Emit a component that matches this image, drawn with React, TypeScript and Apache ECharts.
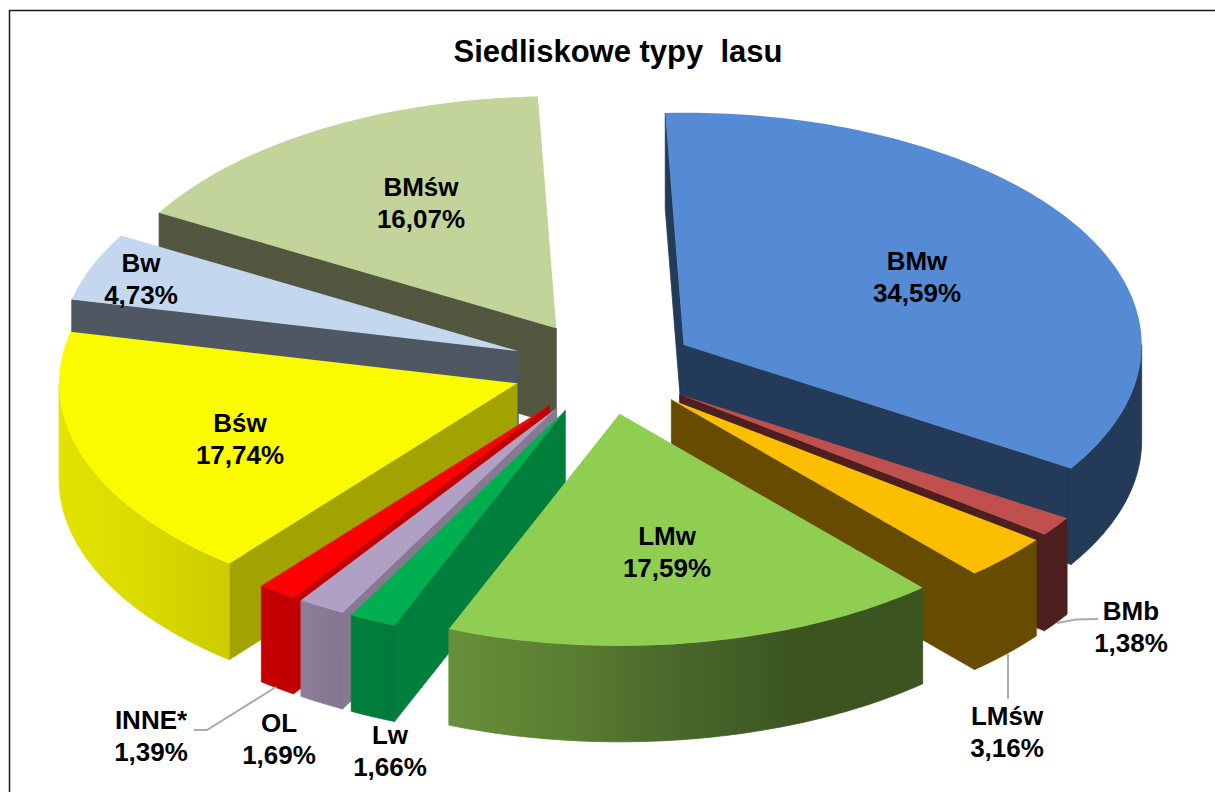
import React, { useEffect, useRef } from "react";
import * as echarts from "echarts";

const titleText = "Siedliskowe typy  lasu";
// clockwise from the top of the pie
const categories = ["BMw", "BMb", "LMśw", "LMw", "Lw", "OL", "INNE*", "Bśw", "Bw", "BMśw"];
const shares = [34.59, 1.38, 3.16, 17.59, 1.66, 1.69, 1.39, 17.74, 4.73, 16.07];
// back-to-front paint order (indices into categories)
const paintOrder = [9, 8, 0, 7, 1, 2, 6, 5, 4, 3];

const topColors = ["#558BD4", "#C0504D", "#FCBE00", "#8FCE50", "#00B050", "#B0A0C4", "#FF0000", "#FBFB00", "#C3D7EE", "#C2D499"];
const cutColors = ["#243A59", "#4D1F1F", "#674C00", "#3B5320", "#007F3C", "#857A92", "#C00000", "#A3A300", "#4F5763", "#53573F"];
const rimStops: string[][] = [
  ["#243A59", "#243A59"],
  ["#4D1F1F", "#4D1F1F"],
  ["#674C00", "#674C00"],
  ["#688F3A", "#5A7E31", "#48662A", "#3C5420", "#3C5420"],
  ["#007F3C", "#007A3A"],
  ["#8C7E9A", "#847690"],
  ["#C80000", "#BE0000"],
  ["#E3E300", "#DADA00", "#CCCC00"],
  ["#4F5763", "#4F5763"],
  ["#53573F", "#53573F"],
];
const labelCentres = [
  [917, 277], [1131, 627], [1007, 732], [667, 552], [390, 751],
  [279, 739], [151, 736], [240, 439], [141, 279], [421, 203],
];
const leaders = [
  [[194, 730], [207, 730], [276, 687]],
  [[1008, 654], [1008, 699]],
  [[1098, 619], [1076, 619.5], [1057, 623]],
];

// Projection of the tilted disc
const CX = 604, CY = 368, RX = 458, RY = 232, DEPTH = 96;
const EXPLODE_X = 92, EXPLODE_Y = 46.5, START_ANGLE = -2.3;

const total = shares.reduce((a, b) => a + b, 0);
const rad = (d: number) => (d * Math.PI) / 180;
const angles: [number, number][] = [];
{
  let a = START_ANGLE;
  for (const v of shares) {
    const next = a + (v / total) * 360;
    angles.push([a, next]);
    a = next;
  }
}

function sliceFaces(i: number) {
  const [a0, a1] = angles[i];
  const mid = rad((a0 + a1) / 2);
  const ax = CX + EXPLODE_X * Math.sin(mid);
  const ay = CY - EXPLODE_Y * Math.cos(mid);
  const pt = (deg: number, drop = 0): number[] => [
    ax + RX * Math.sin(rad(deg)),
    ay - RY * Math.cos(rad(deg)) + drop,
  ];
  const arc = (from: number, to: number, drop = 0) => {
    const pts: number[][] = [];
    const n = Math.max(2, Math.ceil(Math.abs(to - from)));
    for (let k = 0; k <= n; k++) pts.push(pt(from + ((to - from) * k) / n, drop));
    return pts;
  };
  const children: any[] = [];
  const poly = (points: number[][], fill: any, stroke: any) =>
    children.push({
      type: "polygon",
      shape: { points },
      style: { fill, stroke, lineWidth: stroke === "none" ? 0 : 0.8, lineJoin: "round" },
      silent: true,
    });

  const cut = (deg: number) => {
    const p = pt(deg);
    const q = pt(deg, DEPTH);
    poly([[ax, ay], p, q, [ax, ay + DEPTH]], cutColors[i], cutColors[i]);
  };
  if (Math.sin(rad(a0)) < 0) cut(a0);
  if (Math.sin(rad(a1)) > 0) cut(a1);

  const r0 = Math.max(a0, 90);
  const r1 = Math.min(a1, 270);
  if (r1 > r0) {
    const stops = rimStops[i];
    const fill = new echarts.graphic.LinearGradient(
      0, 0, 1, 0,
      stops.map((color, k) => ({ offset: k / (stops.length - 1), color }))
    );
    poly([...arc(r0, r1), ...arc(r1, r0, DEPTH)], fill, fill);
  }
  poly([[ax, ay], ...arc(a0, a1)], topColors[i], "none");
  return children;
}

const labelFont = { fontFamily: "Liberation Sans, Arial, sans-serif", fontWeight: "bold" as const };

export default function App() {
  const ref = useRef<HTMLDivElement>(null);
  useEffect(() => {
    document.body.style.margin = "0";
    const chart = echarts.init(ref.current!, null, { renderer: "svg" });
    chart.setOption({
      animation: false,
      backgroundColor: "#fff",
      title: {
        text: titleText,
        left: 613,
        top: 31,
        textAlign: "center",
        textStyle: { ...labelFont, fontSize: 31, color: "#000" },
      },
      tooltip: { show: false },
      series: [
        {
          type: "custom",
          coordinateSystem: "none",
          silent: true,
          data: paintOrder.map((i) => ({ name: categories[i], value: [shares[i], i] })),
          renderItem: (params: any) => ({
            type: "group",
            children: sliceFaces(paintOrder[params.dataIndex]),
          }),
        },
      ],
      graphic: [
        {
          type: "rect",
          silent: true,
          shape: { x: 9.5, y: 10.5, width: 1400, height: 1000 },
          style: { fill: "none", stroke: "#1a1a1a", lineWidth: 1.5 },
          z: 1,
        },
        ...leaders.map((points) => ({
          type: "polyline",
          silent: true,
          shape: { points },
          style: { fill: "none", stroke: "#ABABAB", lineWidth: 2 },
          z: 5,
        })),
        ...categories.map((name, i) => ({
          type: "text",
          silent: true,
          x: labelCentres[i][0],
          y: labelCentres[i][1],
          z: 10,
          style: {
            text: `${name}\n${shares[i].toFixed(2).replace(".", ",")}%`,
            ...labelFont,
            fontSize: 26,
            lineHeight: 32,
            fill: "#000",
            align: "center",
            verticalAlign: "middle",
          },
        })),
      ],
    });
    return () => chart.dispose();
  }, []);
  return <div ref={ref} style={{ position: "absolute", left: 0, top: 0, width: 1215, height: 792, overflow: "hidden" }} />;
}
